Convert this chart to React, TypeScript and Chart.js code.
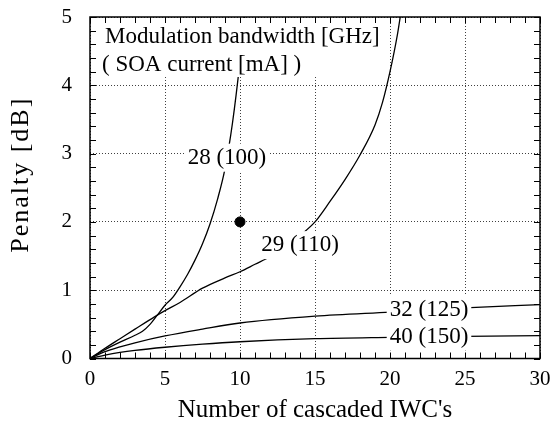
import { useEffect, useRef } from "react";
import { Chart, registerables } from "chart.js";

Chart.register(...registerables);

// ---- data ----
const curve28X = [0, 1, 2, 3, 3.5, 4, 4.5, 5, 5.5, 6, 6.5, 7, 7.5, 8, 8.5, 9, 9.5, 10, 10.3];
const curve28Y = [0, 0.13, 0.24, 0.34, 0.4, 0.5, 0.64, 0.78, 0.89, 1.05, 1.23, 1.44, 1.68, 1.97, 2.33, 2.78, 3.45, 4.35, 5.0];

const curve29X = [0, 1, 2, 3, 4.3, 5, 6, 7.5, 9, 10, 11, 12, 13, 14, 15, 16, 17, 18, 19, 19.5, 20, 20.5, 20.75];
const curve29Y = [0, 0.15, 0.29, 0.43, 0.61, 0.7, 0.82, 1.03, 1.18, 1.27, 1.38, 1.49, 1.62, 1.8, 2.0, 2.3, 2.62, 2.98, 3.42, 3.75, 4.2, 4.75, 5.1];

const curve32X = [0, 1, 2, 3, 5, 7.5, 10, 15, 20, 25, 30];
const curve32Y = [0, 0.1, 0.17, 0.23, 0.33, 0.43, 0.52, 0.62, 0.68, 0.74, 0.79];

const curve40X = [0, 1, 2, 3, 5, 7.5, 10, 15, 20, 25, 30];
const curve40Y = [0, 0.05, 0.09, 0.12, 0.165, 0.21, 0.245, 0.29, 0.31, 0.325, 0.335];

const markerX = [10];
const markerY = [2];

const curveLabels = ["28 (100)", "29 (110)", "32 (125)", "40 (150)"];
const curveLabelX = [9.13, 14.0, 22.6, 22.6];
const curveLabelY = [2.94, 1.66, 0.71, 0.32];

const boxLines = ["Modulation bandwidth [GHz]", "( SOA current [mA] )"];

const xTitle = "Number of cascaded IWC's";
const yTitle = "Penalty [dB]";

const FONT = "'Liberation Serif', 'Times New Roman', serif";

const toPts = (xs: number[], ys: number[]) => xs.map((x, i) => ({ x, y: ys[i] }));

const overlay = {
  id: "overlay",
  afterDatasetsDraw(chart: any) {
    const { ctx, chartArea: a, scales } = chart;
    const xs = scales.x;
    const ys = scales.y;
    ctx.save();
    // text box (top-left)
    ctx.fillStyle = "#fff";
    ctx.fillRect(a.left + 1, a.top + 1, 292, 59);
    ctx.fillStyle = "#000";
    ctx.font = `23px ${FONT}`;
    ctx.textAlign = "left";
    ctx.textBaseline = "alphabetic";
    ctx.fillText(boxLines[0], a.left + 15, a.top + 26);
    ctx.fillText(boxLines[1], a.left + 12, a.top + 54);

    // curve labels
    ctx.textAlign = "center";
    ctx.textBaseline = "middle";
    curveLabels.forEach((t, i) => {
      const px = xs.getPixelForValue(curveLabelX[i]);
      const py = ys.getPixelForValue(curveLabelY[i]);
      const w = ctx.measureText(t).width;
      ctx.fillStyle = "#fff";
      ctx.fillRect(px - w / 2 - 3, py - 14, w + 6, 28);
      ctx.fillStyle = "#000";
      ctx.fillText(t, px, py);
    });

    // frame
    ctx.strokeStyle = "#000";
    ctx.lineWidth = 1.5;
    ctx.strokeRect(a.left, a.top, a.right - a.left, a.bottom - a.top);

    // inward minor ticks
    ctx.lineWidth = 1;
    ctx.beginPath();
    for (let v = xs.min; v <= xs.max + 1e-9; v += 1) {
      const p = Math.round(xs.getPixelForValue(v)) + 0.5;
      ctx.moveTo(p, a.bottom);
      ctx.lineTo(p, a.bottom - 6);
      ctx.moveTo(p, a.top);
      ctx.lineTo(p, a.top + 6);
    }
    for (let v = ys.min; v <= ys.max + 1e-9; v += 0.2) {
      const p = Math.round(ys.getPixelForValue(v)) + 0.5;
      ctx.moveTo(a.left, p);
      ctx.lineTo(a.left + 6, p);
      ctx.moveTo(a.right, p);
      ctx.lineTo(a.right - 6, p);
    }
    ctx.stroke();

    // y-axis title (letter-spaced like the original)
    ctx.translate(21, (a.top + a.bottom) / 2 - 13);
    ctx.rotate(-Math.PI / 2);
    ctx.font = `26px ${FONT}`;
    (ctx as any).letterSpacing = "2px";
    ctx.textAlign = "center";
    ctx.textBaseline = "middle";
    ctx.fillStyle = "#000";
    ctx.fillText(yTitle, 0, 0);
    ctx.restore();
  },
};

export default function App() {
  const ref = useRef<HTMLCanvasElement | null>(null);

  useEffect(() => {
    if (!ref.current) return;
    const lineDs = (xs: number[], ys: number[]) => ({
      data: toPts(xs, ys),
      showLine: true,
      borderColor: "#000",
      borderWidth: 1.3,
      pointRadius: 0,
      cubicInterpolationMode: "monotone" as const,
      fill: false,
    });
    const chart = new Chart(ref.current, {
      type: "scatter",
      data: {
        datasets: [
          lineDs(curve28X, curve28Y),
          lineDs(curve29X, curve29Y),
          lineDs(curve32X, curve32Y),
          lineDs(curve40X, curve40Y),
          {
            data: toPts(markerX, markerY),
            showLine: false,
            pointRadius: 5,
            pointBackgroundColor: "#000",
            pointBorderColor: "#000",
          },
        ],
      },
      options: {
        animation: false,
        responsive: false,
        devicePixelRatio: 1,
        layout: { padding: 0 },
        plugins: { legend: { display: false }, tooltip: { enabled: false } },
        scales: {
          x: {
            type: "linear",
            min: 0,
            max: 30,
            afterFit: (s: any) => {
              s.height = 72.5;
              s.paddingLeft = 0;
              s.paddingRight = 15;
            },
            ticks: { stepSize: 5, color: "#000", font: { family: FONT, size: 21 }, padding: 8, maxRotation: 0 },
            grid: { color: "rgba(0,0,0,0.75)", lineWidth: 1, drawTicks: false },
            border: { display: false, dash: [1, 2] },
            title: { display: true, text: xTitle, color: "#000", font: { family: FONT, size: 25 }, padding: { top: 0, bottom: 6 } },
          },
          y: {
            type: "linear",
            min: 0,
            max: 5,
            afterFit: (s: any) => {
              s.width = 90;
              s.paddingTop = 17;
              s.paddingBottom = 0;
            },
            ticks: { stepSize: 1, color: "#000", font: { family: FONT, size: 21 }, padding: 18 },
            grid: { color: "rgba(0,0,0,0.75)", lineWidth: 1, drawTicks: false },
            border: { display: false, dash: [1, 2] },
            title: { display: false, text: yTitle },
          },
        },
      },
      plugins: [overlay],
    });
    return () => chart.destroy();
  }, []);

  return (
    <div style={{ position: "fixed", left: 0, top: 0, width: 555, height: 431, background: "#fff" }}>
      <canvas ref={ref} width={555} height={431} style={{ display: "block" }} />
    </div>
  );
}
